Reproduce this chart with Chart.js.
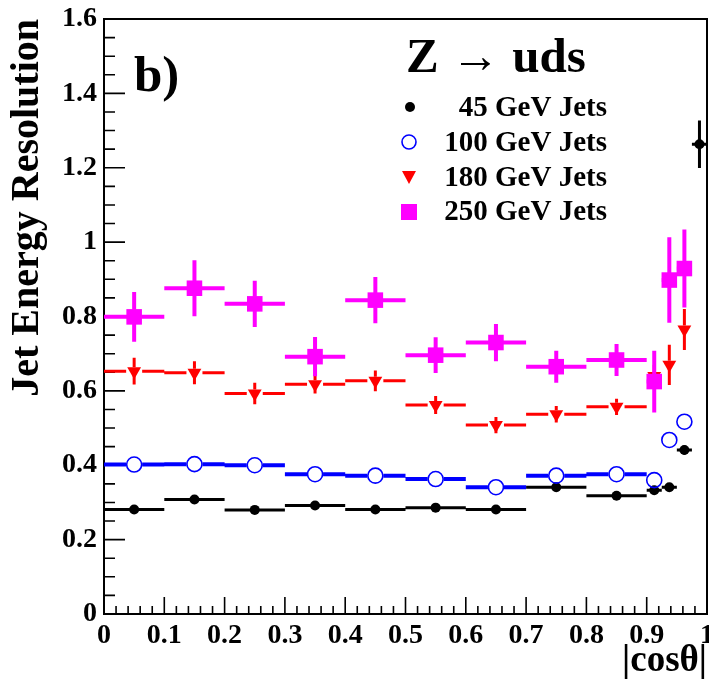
<!DOCTYPE html>
<html>
<head>
<meta charset="utf-8">
<script src="https://cdn.jsdelivr.net/npm/chart.js@4.4.1/dist/chart.umd.min.js"></script>
<style>
  html, body { margin: 0; padding: 0; background: #fff; }
  #wrap { width: 709px; height: 680px; }
</style>
</head>
<body>
<div id="wrap"><canvas id="resChart" width="709" height="680"></canvas></div>
<script>
// bin centres and half widths in |cos theta|
const xCenters = [0.05, 0.15, 0.25, 0.35, 0.45, 0.55, 0.65, 0.75, 0.85, 0.9125, 0.9375, 0.9625, 0.9875];
const xHalfWidths = [0.05, 0.05, 0.05, 0.05, 0.05, 0.05, 0.05, 0.05, 0.05, 0.0125, 0.0125, 0.0125, 0.0125];

// jet energy resolution per bin
const res45 = [0.281, 0.308, 0.280, 0.292, 0.281, 0.286, 0.281, 0.341, 0.318, 0.333, 0.341, 0.441, 1.263];
const err45 = [0.004, 0.004, 0.004, 0.004, 0.004, 0.004, 0.004, 0.004, 0.005, 0.006, 0.008, 0.012, 0.064];
const res100 = [0.402, 0.403, 0.400, 0.376, 0.372, 0.363, 0.341, 0.372, 0.376, 0.360, 0.468, 0.517, null];
const err100 = [0.006, 0.006, 0.006, 0.006, 0.006, 0.006, 0.006, 0.006, 0.007, 0.010, 0.015, 0.015, null];
const res180 = [0.653, 0.649, 0.593, 0.618, 0.627, 0.562, 0.508, 0.537, 0.557, 0.640, 0.670, 0.765, null];
const err180 = [0.036, 0.031, 0.029, 0.025, 0.028, 0.024, 0.022, 0.022, 0.022, 0.030, 0.054, 0.055, null];
const res250 = [0.799, 0.876, 0.834, 0.692, 0.844, 0.696, 0.730, 0.665, 0.683, 0.625, 0.898, 0.929, null];
const err250 = [0.067, 0.075, 0.062, 0.053, 0.062, 0.048, 0.050, 0.043, 0.043, 0.083, 0.115, 0.105, null];

const legendLabels = ['45 GeV Jets', '100 GeV Jets', '180 GeV Jets', '250 GeV Jets'];

// axis ticks
const xTicks = [0, 0.1, 0.2, 0.3, 0.4, 0.5, 0.6, 0.7, 0.8, 0.9, 1];
const xTickLabels = ['0', '0.1', '0.2', '0.3', '0.4', '0.5', '0.6', '0.7', '0.8', '0.9', '1'];
const yTicks = [0, 0.2, 0.4, 0.6, 0.8, 1, 1.2, 1.4, 1.6];
const yTickLabels = ['0', '0.2', '0.4', '0.6', '0.8', '1', '1.2', '1.4', '1.6'];

const serif = '"Liberation Serif", "Times New Roman", serif';

function toPoints(vals) {
    return xCenters.map((x, i) => ({ x: x, y: vals[i] }));
}

// error bars drawn just before each dataset's markers
const errorBars = {
    id: 'errorBars',
    beforeDatasetDraw(chart, args) {
        const ds = chart.data.datasets[args.index];
        const { ctx } = chart;
        const x = chart.scales.x, y = chart.scales.y;
        ctx.save();
        ctx.strokeStyle = ds.barColor;
        ctx.lineWidth = ds.barWidth;
        ctx.beginPath();
        ds.values.forEach((v, i) => {
            if (v === null) return;
            const cx = x.getPixelForValue(xCenters[i]);
            const cy = y.getPixelForValue(v);
            const xl = x.getPixelForValue(xCenters[i] - xHalfWidths[i]);
            const xr = x.getPixelForValue(xCenters[i] + xHalfWidths[i]);
            const yt = y.getPixelForValue(v + ds.errors[i]);
            const yb = y.getPixelForValue(v - ds.errors[i]);
            const gx = ds.gapX, gy = ds.gapY;
            if (cx - xl > gx) {
                ctx.moveTo(xl, cy); ctx.lineTo(cx - gx, cy);
                ctx.moveTo(cx + gx, cy); ctx.lineTo(xr, cy);
            }
            if (cy - yt > gy) {
                ctx.moveTo(cx, yt); ctx.lineTo(cx, cy - gy);
                ctx.moveTo(cx, cy + gy); ctx.lineTo(cx, yb);
            }
        });
        ctx.stroke();
        ctx.restore();
    }
};

// frame and inward ticks (ROOT style)
const frameTicks = {
    id: 'frameTicks',
    beforeDatasetsDraw(chart) {
        const { ctx, chartArea: a } = chart;
        const x = chart.scales.x, y = chart.scales.y;
        ctx.save();
        ctx.strokeStyle = '#000';
        ctx.lineWidth = 2;
        ctx.strokeRect(a.left, a.top, a.right - a.left, a.bottom - a.top);
        ctx.lineWidth = 1.6;
        ctx.beginPath();
        for (let k = 0; k <= 50; k++) {
            const px = x.getPixelForValue(k / 50);
            const len = k % 5 === 0 ? 17 : 8;
            ctx.moveTo(px, a.bottom); ctx.lineTo(px, a.bottom - len);
        }
        for (let k = 0; k <= 32; k++) {
            const py = y.getPixelForValue(k * 0.05);
            const len = k % 4 === 0 ? 21 : 11;
            ctx.moveTo(a.left, py); ctx.lineTo(a.left + len, py);
        }
        ctx.stroke();
        ctx.restore();
    }
};

// panel label, process label and legend
const annotations = {
    id: 'annotations',
    afterDraw(chart) {
        const { ctx } = chart;
        ctx.save();
        ctx.fillStyle = '#000';
        ctx.textBaseline = 'alphabetic';
        ctx.textAlign = 'left';
        ctx.font = 'bold 51px ' + serif;
        ctx.fillText('b)', 134, 91);
        ctx.font = 'bold 49px ' + serif;
        ctx.fillText('Z \u2192 uds', 406, 72);

        ctx.font = 'bold 29px ' + serif;
        ctx.textAlign = 'right';
        const rows = [116, 151, 186, 220];
        legendLabels.forEach((t, i) => ctx.fillText(t, 607, rows[i]));

        // markers
        ctx.fillStyle = '#000';
        ctx.beginPath(); ctx.arc(410, 107, 5, 0, Math.PI * 2); ctx.fill();
        ctx.strokeStyle = '#0000ff'; ctx.lineWidth = 1.6;
        ctx.beginPath(); ctx.arc(409, 142, 7, 0, Math.PI * 2); ctx.stroke();
        ctx.fillStyle = '#ff0000';
        ctx.beginPath(); ctx.moveTo(402, 171); ctx.lineTo(416, 171); ctx.lineTo(409, 184); ctx.closePath(); ctx.fill();
        ctx.fillStyle = '#ff00ff';
        ctx.fillRect(401, 204, 16, 16);
        ctx.restore();
    }
};

const ctx = document.getElementById('resChart').getContext('2d');
const chart = new Chart(ctx, {
    type: 'scatter',
    data: {
        datasets: [
            {
                label: legendLabels[0], data: toPoints(res45), values: res45, errors: err45,
                order: 4, pointStyle: 'circle', pointRadius: 5, pointBorderWidth: 0,
                pointBackgroundColor: '#000', pointBorderColor: '#000',
                barColor: '#000', barWidth: 3, gapX: 4, gapY: 4
            },
            {
                label: legendLabels[1], data: toPoints(res100), values: res100, errors: err100,
                order: 3, pointStyle: 'circle', pointRadius: 7.5, pointBorderWidth: 1.6,
                pointBackgroundColor: 'rgba(0,0,0,0)', pointBorderColor: '#0000ff',
                barColor: '#0000ff', barWidth: 4, gapX: 8, gapY: 8
            },
            {
                label: legendLabels[2], data: toPoints(res180), values: res180, errors: err180,
                order: 2, pointStyle: 'triangle', pointRotation: 180, pointRadius: 8, pointBorderWidth: 0,
                pointBackgroundColor: '#ff0000', pointBorderColor: '#ff0000',
                barColor: '#ff0000', barWidth: 3, gapX: 8, gapY: 4
            },
            {
                label: legendLabels[3], data: toPoints(res250), values: res250, errors: err250,
                order: 1, pointStyle: 'rect', pointRadius: 11, pointBorderWidth: 0,
                pointBackgroundColor: '#ff00ff', pointBorderColor: '#ff00ff',
                barColor: '#ff00ff', barWidth: 4, gapX: 7, gapY: 7
            }
        ]
    },
    options: {
        responsive: false,
        animation: false,
        events: [],
        layout: { autoPadding: false, padding: { left: 0, top: 19, right: 2, bottom: 0 } },
        plugins: {
            legend: { display: false },
            tooltip: { enabled: false }
        },
        scales: {
            x: {
                type: 'linear', min: 0, max: 1,
                afterBuildTicks: s => { s.ticks = xTicks.map(v => ({ value: v })); },
                afterFit: s => { s.height = 66; s.paddingLeft = 0; s.paddingRight = 0; },
                grid: { display: false, drawTicks: false },
                border: { display: false },
                ticks: {
                    autoSkip: false, maxRotation: 0, padding: 5, color: '#000',
                    font: { family: serif, size: 28, weight: 'bold' },
                    callback: (v, i) => xTickLabels[i]
                },
                title: {
                    display: true, text: '|cos\u03b8|', align: 'end', color: '#000', padding: 0,
                    font: { family: serif, size: 37, weight: 'bold', lineHeight: 1 }
                }
            },
            y: {
                type: 'linear', min: 0, max: 1.6,
                afterBuildTicks: s => { s.ticks = yTicks.map(v => ({ value: v })); },
                afterFit: s => { s.width = 104; s.paddingTop = 0; s.paddingBottom = 0; },
                grid: { display: false, drawTicks: false },
                border: { display: false },
                ticks: {
                    autoSkip: false, padding: 7, color: '#000',
                    font: { family: serif, size: 28, weight: 'bold' },
                    callback: (v, i) => yTickLabels[i]
                },
                title: {
                    display: true, text: 'Jet Energy Resolution', align: 'end', color: '#000',
                    padding: { top: 4, bottom: 0 },
                    font: { family: serif, size: 40, weight: 'bold' }
                }
            }
        }
    },
    plugins: [frameTicks, errorBars, annotations]
});
</script>
</body>
</html>
